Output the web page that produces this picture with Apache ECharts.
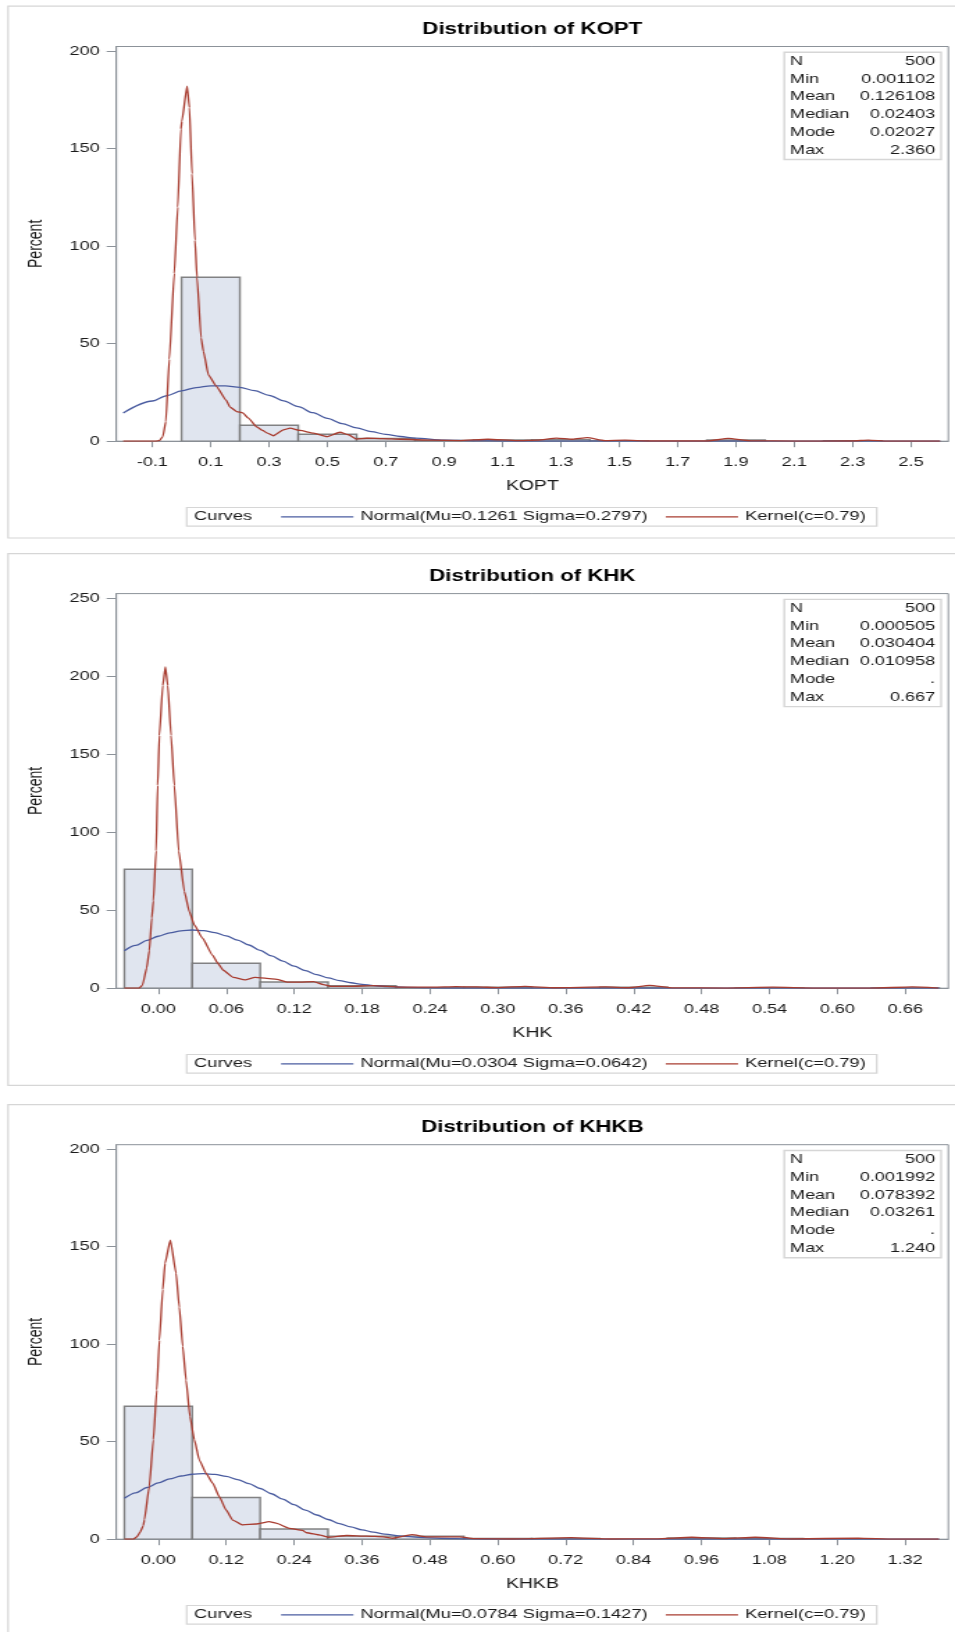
<!DOCTYPE html>
<html>
<head>
<meta charset="utf-8">
<script src="https://cdn.jsdelivr.net/npm/echarts@6/dist/echarts.min.js"></script>
<style>
  html, body { margin: 0; padding: 0; background: #fff; overflow: hidden; }
  #wrap { width: 955px; height: 1632px; overflow: hidden; }
  /* The panels use a wide horizontal aspect: draw at 687px and widen to 955px. */
  #chart { width: 687px; height: 1632px; transform: scaleX(1.39010); transform-origin: 0 0; }
</style>
</head>
<body>
<div id="wrap"><div id="chart"></div></div>
<script>
// ---------- summary statistics ----------
const statNames = ['N', 'Min', 'Mean', 'Median', 'Mode', 'Max'];
const koptStats = ['500', '0.001102', '0.126108', '0.02403', '0.02027', '2.360'];
const khkStats  = ['500', '0.000505', '0.030404', '0.010958', '.', '0.667'];
const khkbStats = ['500', '0.001992', '0.078392', '0.03261', '.', '1.240'];

// ---------- curve names ----------
const koptNormalName = 'Normal(Mu=0.1261 Sigma=0.2797)';
const khkNormalName  = 'Normal(Mu=0.0304 Sigma=0.0642)';
const khkbNormalName = 'Normal(Mu=0.0784 Sigma=0.1427)';
const kernelName = 'Kernel(c=0.79)';

// ---------- KOPT ----------
const koptBinEdges = [0, 0.2, 0.4, 0.6, 0.8, 1.0, 1.2, 1.4, 1.6, 1.8, 2.0, 2.2, 2.4];
const koptPercent  = [84.0, 8.2, 3.6, 1.4, 0.4, 0.6, 0.8, 0.2, 0, 0.6, 0, 0.2];
const koptNormal = [
  [-0.2, 14.5], [-0.1, 20.6], [-0.05, 23.4], [0, 25.8], [0.05, 27.5], [0.1, 28.4], [0.15, 28.4],
  [0.2, 27.6], [0.25, 25.9], [0.3, 23.5], [0.35, 20.7], [0.4, 17.7], [0.45, 14.6], [0.5, 11.7],
  [0.55, 9.05], [0.6, 6.8], [0.65, 4.9], [0.7, 3.5], [0.75, 2.4], [0.8, 1.6], [0.9, 0.6],
  [1.0, 0.2], [1.1, 0.07], [1.2, 0.02], [1.4, 0], [2.6, 0]
];
const koptKernel = [
  [-0.2, 0], [-0.09, 0], [-0.076, 0.3], [-0.064, 2.5], [-0.054, 10], [-0.042, 42], [-0.025, 86],
  [-0.013, 120], [-0.002, 160], [0.001, 164], [0.019, 182], [0.027, 171], [0.036, 137],
  [0.046, 103], [0.053, 84], [0.067, 53], [0.075, 46], [0.092, 34], [0.118, 28.4], [0.153, 21],
  [0.166, 17.5], [0.189, 15.2], [0.21, 14.5], [0.229, 11.8], [0.258, 7.3], [0.278, 5.5],
  [0.292, 4.3], [0.315, 2.8], [0.349, 5.8], [0.372, 6.7], [0.406, 5.5], [0.452, 4.1],
  [0.498, 2.3], [0.543, 4.6], [0.572, 3.3], [0.6, 1.1], [0.635, 1.5], [0.69, 1.3], [0.75, 1.0],
  [0.86, 0.5], [0.95, 0.3], [1.05, 1.0], [1.15, 0.3], [1.22, 0.6], [1.285, 1.6], [1.34, 1.0],
  [1.39, 1.8], [1.45, 0.3], [1.52, 0.5], [1.6, 0.1], [1.8, 0.1], [1.874, 1.4], [1.95, 0.2],
  [2.1, 0.05], [2.3, 0.1], [2.354, 0.6], [2.42, 0.05], [2.6, 0]
];
const koptTicks = [-0.1, 0.1, 0.3, 0.5, 0.7, 0.9, 1.1, 1.3, 1.5, 1.7, 1.9, 2.1, 2.3, 2.5];
const koptPercentTicks = [0, 50, 100, 150, 200];

// ---------- KHK ----------
const khkBinEdges = [-0.03, 0.03, 0.09, 0.15, 0.21, 0.27, 0.33, 0.39, 0.45, 0.51, 0.57, 0.63, 0.69];
const khkPercent  = [76.2, 16.0, 4.0, 1.6, 0.4, 0.6, 0.2, 0.6, 0, 0.2, 0, 0.2];
const khkNormal = [
  [-0.03, 24.0], [-0.02, 27.4], [-0.01, 30.6], [0, 33.3], [0.01, 35.5], [0.02, 36.8], [0.03, 37.3],
  [0.04, 36.9], [0.05, 35.6], [0.06, 33.5], [0.07, 30.8], [0.08, 27.7], [0.09, 24.2], [0.1, 20.7],
  [0.11, 17.3], [0.12, 14.1], [0.13, 11.2], [0.14, 8.7], [0.15, 6.6], [0.16, 4.9], [0.17, 3.5],
  [0.18, 2.5], [0.19, 1.7], [0.2, 1.1], [0.22, 0.5], [0.24, 0.18], [0.27, 0.03], [0.3, 0], [0.69, 0]
];
const khkKernel = [
  [-0.03, 0], [-0.017, 0], [-0.014, 2], [-0.0103, 13], [-0.008, 24], [-0.0058, 45], [-0.0044, 56],
  [-0.002, 88], [-0.0006, 130], [0.0009, 162], [0.0039, 194], [0.0062, 206], [0.0083, 194],
  [0.0112, 162], [0.0141, 130], [0.018, 88], [0.023, 62], [0.0274, 49], [0.0318, 40.5],
  [0.039, 32], [0.048, 21], [0.0525, 16], [0.0574, 11.5], [0.0663, 6.9], [0.0766, 5.3],
  [0.0854, 6.9], [0.0958, 6.3], [0.1046, 5.7], [0.1135, 3.9], [0.125, 3.9], [0.137, 4.2],
  [0.146, 2.3], [0.152, 1.2], [0.169, 1.2], [0.19, 1.6], [0.214, 0.7], [0.243, 0.7], [0.263, 1.0],
  [0.281, 0.8], [0.3, 0.4], [0.324, 1.2], [0.35, 0.3], [0.395, 0.8], [0.415, 0.3], [0.434, 1.8],
  [0.455, 0.2], [0.5, 0.1], [0.543, 0.7], [0.58, 0.1], [0.63, 0.1], [0.666, 0.8], [0.689, 0.1]
];
const khkTicks = [0, 0.06, 0.12, 0.18, 0.24, 0.30, 0.36, 0.42, 0.48, 0.54, 0.60, 0.66];
const khkPercentTicks = [0, 50, 100, 150, 200, 250];

// ---------- KHKB ----------
const khkbBinEdges = [-0.06, 0.06, 0.18, 0.30, 0.42, 0.54, 0.66, 0.78, 0.90, 1.02, 1.14, 1.26];
const khkbPercent  = [68.2, 21.4, 5.2, 1.6, 1.6, 0.4, 0.4, 0, 0.6, 0.4, 0.2];
const khkbNormal = [
  [-0.06, 21.0], [-0.04, 23.8], [-0.02, 26.5], [0, 28.9], [0.02, 30.9], [0.04, 32.4], [0.06, 33.3],
  [0.08, 33.6], [0.1, 33.2], [0.12, 32.2], [0.14, 30.6], [0.16, 28.5], [0.18, 26.0], [0.2, 23.3],
  [0.22, 20.5], [0.24, 17.7], [0.26, 14.9], [0.28, 12.4], [0.3, 10.1], [0.32, 8.0], [0.34, 6.3],
  [0.36, 4.8], [0.38, 3.6], [0.4, 2.65], [0.43, 1.6], [0.46, 0.94], [0.5, 0.43], [0.55, 0.14],
  [0.6, 0.04], [0.7, 0], [1.38, 0]
];
const khkbKernel = [
  [-0.06, 0], [-0.044, 0], [-0.038, 1.2], [-0.032, 3.7], [-0.0265, 7], [-0.0247, 10], [-0.016, 27],
  [-0.0088, 51], [-0.0028, 76.5], [0.0018, 102], [0.0078, 128], [0.0118, 141.5], [0.0212, 153.4],
  [0.0313, 136.4], [0.0371, 119], [0.0431, 99], [0.049, 81.6], [0.056, 62.8], [0.0636, 51],
  [0.0725, 40.6], [0.0843, 33.8], [0.0961, 28.7], [0.1078, 21.8], [0.1197, 15], [0.1315, 9.8],
  [0.149, 7.3], [0.1727, 7.8], [0.196, 9.0], [0.208, 8.2], [0.2316, 5.6], [0.255, 4.5],
  [0.262, 3.3], [0.286, 2.1], [0.3, 1.0], [0.333, 1.9], [0.368, 1.6], [0.398, 1.2], [0.415, 0.5],
  [0.448, 2.3], [0.475, 1.2], [0.533, 1.2], [0.557, 0.3], [0.62, 0.1], [0.73, 0.8], [0.8, 0.1],
  [0.88, 0.2], [0.943, 1.0], [1.0, 0.3], [1.055, 1.0], [1.12, 0.1], [1.237, 0.6], [1.3, 0.05],
  [1.38, 0]
];
const khkbTicks = [0, 0.12, 0.24, 0.36, 0.48, 0.60, 0.72, 0.84, 0.96, 1.08, 1.20, 1.32];
const khkbPercentTicks = [0, 50, 100, 150, 200];

// ---------- styling ----------
const FONT = "'Liberation Sans', Arial, Helvetica, sans-serif";
const TEXT = '#1a1a1a';
const AXIS = '#8c9299';
const FRAME = '#d6d6d6';
const BAR_FILL = '#e0e5ef';
const BAR_EDGE = 'rgba(110,110,110,0.85)';
const NORMAL_COLOR = '#4a5ca0';
const KERNEL_COLOR = '#a83c30';

const GRID_LEFT = 83.7;
const GRID_W = 598.5;

const panels = [
  { title: 'Distribution of KOPT', xName: 'KOPT', top: 46.5, h: 394.7, frameTop: 6.2, frameH: 531.8,
    xMin: -0.2234, xMax: 2.628, yMax: 202.3, xTicks: koptTicks, dec: 1, yTicks: koptPercentTicks,
    edges: koptBinEdges, pct: koptPercent, normal: koptNormal, kernel: koptKernel,
    normalName: koptNormalName, stats: koptStats },
  { title: 'Distribution of KHK', xName: 'KHK', top: 593.6, h: 394.6, frameTop: 553.6, frameH: 531.7,
    xMin: -0.0371, xMax: 0.698, yMax: 252.9, xTicks: khkTicks, dec: 2, yTicks: khkPercentTicks,
    edges: khkBinEdges, pct: khkPercent, normal: khkNormal, kernel: khkKernel,
    normalName: khkNormalName, stats: khkStats },
  { title: 'Distribution of KHKB', xName: 'KHKB', top: 1144.7, h: 394.5, frameTop: 1104.6, frameH: 560,
    xMin: -0.0742, xMax: 1.3965, yMax: 202.3, xTicks: khkbTicks, dec: 2, yTicks: khkbPercentTicks,
    edges: khkbBinEdges, pct: khkbPercent, normal: khkbNormal, kernel: khkbKernel,
    normalName: khkbNormalName, stats: khkbStats }
];

const option = {
  animation: false,
  backgroundColor: '#ffffff',
  textStyle: { fontFamily: FONT, color: TEXT },
  title: [], grid: [], xAxis: [], yAxis: [], legend: [], series: [], graphic: []
};

panels.forEach((p, i) => {
  const bottom = p.top + p.h;
  const centerX = GRID_LEFT + GRID_W / 2;

  option.title.push({
    text: p.title, left: centerX, top: p.top - 25, textAlign: 'center', padding: 0,
    textStyle: { fontSize: 16, fontWeight: 'bold', color: '#000', fontFamily: FONT }
  });

  option.grid.push({
    left: GRID_LEFT, top: p.top, width: GRID_W, height: p.h,
    show: true, borderColor: AXIS, borderWidth: 1, backgroundColor: 'transparent'
  });

  option.xAxis.push({
    type: 'value', gridIndex: i, min: p.xMin, max: p.xMax,
    name: p.xName, nameLocation: 'middle', nameGap: 38,
    nameTextStyle: { fontSize: 14, color: TEXT, fontFamily: FONT },
    axisLine: { show: true, onZero: false, lineStyle: { color: AXIS, width: 1 } },
    axisTick: { show: true, length: 6, lineStyle: { color: AXIS }, customValues: p.xTicks },
    axisLabel: { customValues: p.xTicks, formatter: v => v.toFixed(p.dec), margin: 15,
                 fontSize: 13, color: TEXT, fontFamily: FONT },
    splitLine: { show: false }
  });

  option.yAxis.push({
    type: 'value', gridIndex: i, min: 0, max: p.yMax,
    name: 'Percent', nameLocation: 'middle', nameGap: 51,
    nameTextStyle: { fontSize: 14, color: TEXT, fontFamily: FONT },
    axisLine: { show: true, onZero: false, lineStyle: { color: AXIS, width: 1 } },
    axisTick: { show: true, length: 7, lineStyle: { color: AXIS }, customValues: p.yTicks },
    axisLabel: { customValues: p.yTicks, margin: 12, fontSize: 13, color: TEXT, fontFamily: FONT },
    splitLine: { show: false }
  });

  // histogram bars: one rect per bin, from its two edges down to zero
  option.series.push({
    type: 'custom', xAxisIndex: i, yAxisIndex: i, silent: true, clip: true, z: 1,
    data: p.pct.map((v, k) => [p.edges[k], p.edges[k + 1], v]),
    encode: { x: [0, 1], y: 2 },
    renderItem: (params, api) => {
      const v = api.value(2);
      if (!v) return null;
      const a = api.coord([api.value(0), v]);
      const b = api.coord([api.value(1), 0]);
      return {
        type: 'rect',
        shape: { x: a[0], y: a[1], width: b[0] - a[0], height: b[1] - a[1] },
        style: { fill: BAR_FILL, stroke: BAR_EDGE, lineWidth: 1.4 }
      };
    }
  });

  option.series.push({
    name: p.normalName, type: 'line', xAxisIndex: i, yAxisIndex: i, data: p.normal,
    symbol: 'none', showSymbol: false, smooth: 0.3, smoothMonotone: 'x', z: 3,
    lineStyle: { color: NORMAL_COLOR, width: 1.3 }, itemStyle: { color: NORMAL_COLOR }
  });

  option.series.push({
    name: kernelName, type: 'line', xAxisIndex: i, yAxisIndex: i, data: p.kernel,
    symbol: 'none', showSymbol: false, smooth: 0.15, smoothMonotone: 'x', z: 4,
    lineStyle: { color: KERNEL_COLOR, width: 1.3 }, itemStyle: { color: KERNEL_COLOR }
  });

  // legend entries drawn as plain line samples
  option.legend.push({
    data: [p.normalName, kernelName], left: 202.2, top: bottom + 75.6 - 7.5, padding: 0,
    icon: 'rect', itemWidth: 52, itemHeight: 1.3, itemGap: 13, selectedMode: false,
    textStyle: { fontSize: 13.2, color: TEXT, fontFamily: FONT, lineHeight: 15 }
  });

  // panel frame
  option.graphic.push({
    type: 'rect', silent: true, z: 0,
    shape: { x: 5.8, y: p.frameTop, width: 700, height: p.frameH },
    style: { fill: 'none', stroke: FRAME, lineWidth: 1.2 }
  });

  // legend box with its "Curves" heading
  option.graphic.push({
    type: 'rect', silent: true, z: 0,
    shape: { x: 134.3, y: bottom + 66.3, width: 496.4, height: 18.6 },
    style: { fill: 'none', stroke: FRAME, lineWidth: 1.2 }
  });
  option.graphic.push({
    type: 'text', silent: true, x: 139.6, y: bottom + 75.6,
    style: { text: 'Curves', fontSize: 13.2, fontFamily: FONT, fill: TEXT,
             textAlign: 'left', align: 'left', textVerticalAlign: 'middle', verticalAlign: 'middle' }
  });

  // statistics inset
  const boxRight = GRID_LEFT + GRID_W - 5.2;
  const boxTop = p.top + 5.8;
  option.graphic.push({
    type: 'rect', silent: true, z: 5,
    shape: { x: boxRight - 112.8, y: boxTop, width: 112.8, height: 107.2 },
    style: { fill: '#ffffff', stroke: FRAME, lineWidth: 1.4 }
  });
  statNames.forEach((name, r) => {
    const y = boxTop + 8.9 + r * 17.8;
    option.graphic.push({
      type: 'text', silent: true, z: 6, x: boxRight - 108.7, y: y,
      style: { text: name, fontSize: 13, fontFamily: FONT, fill: TEXT,
               textAlign: 'left', align: 'left', textVerticalAlign: 'middle', verticalAlign: 'middle' }
    });
    option.graphic.push({
      type: 'text', silent: true, z: 6, x: boxRight - 4.3, y: y,
      style: { text: p.stats[r], fontSize: 13, fontFamily: FONT, fill: TEXT,
               textAlign: 'right', align: 'right', textVerticalAlign: 'middle', verticalAlign: 'middle' }
    });
  });
});

const chart = echarts.init(document.getElementById('chart'), null, { renderer: 'canvas' });
chart.setOption(option);
</script>
</body>
</html>
